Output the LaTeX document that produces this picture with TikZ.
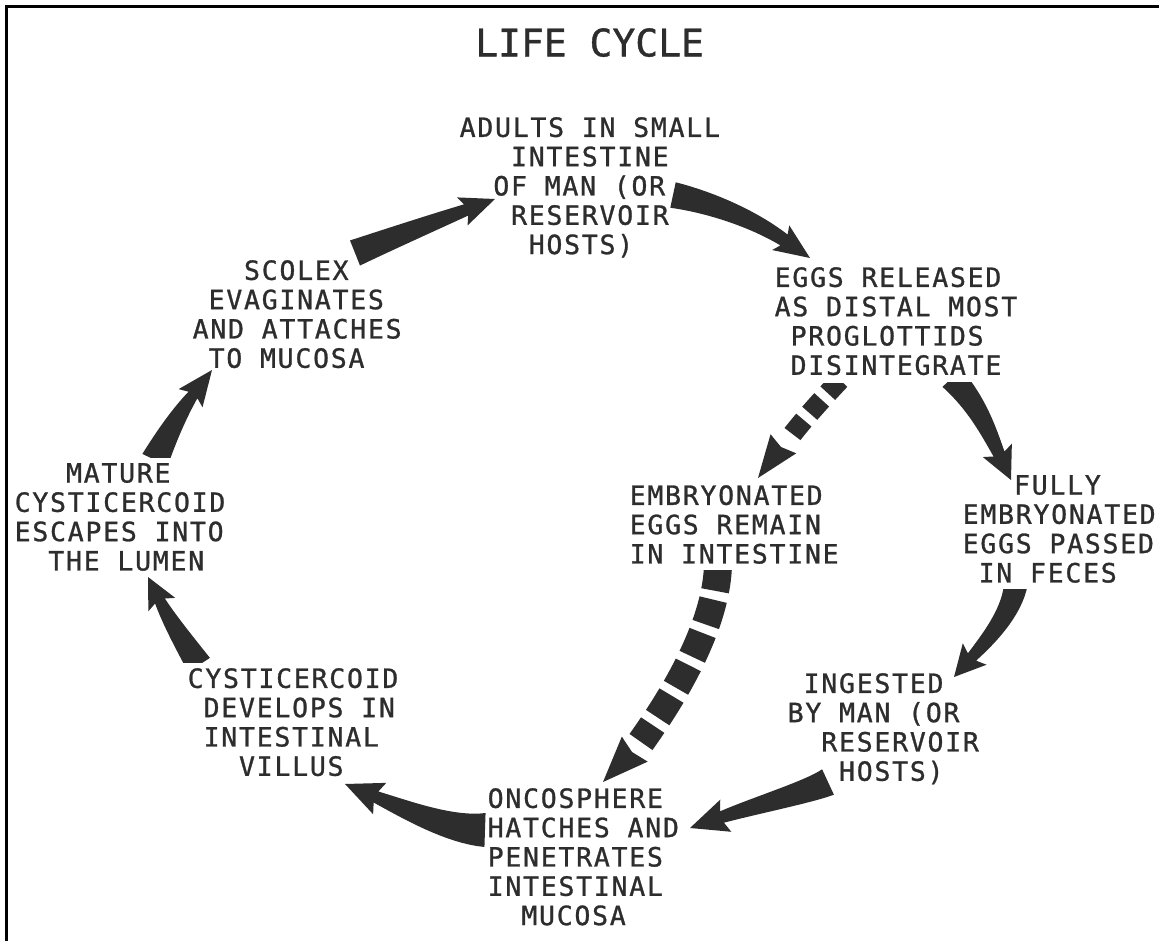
\documentclass[tikz,border=0pt]{standalone}
\usepackage{fontspec}
\usetikzlibrary{calc}
\newfontfamily\monoface[LetterSpace=6.6,FakeBold=1]{DejaVu Sans Mono}
\newfontfamily\titleface[FakeBold=1]{DejaVu Sans Mono}
\definecolor{ink}{RGB}{45,45,45}
\newcommand\bodyfont{\monoface\fontsize{26.5}{29.3}\selectfont}
\newcommand\titlefont{\titleface\fontsize{38}{40}\selectfont}
% tapered curved arrow: #1 start, #2 ctrl1, #3 ctrl2, #4 neck, #5 tip, #6 tail width, #7 neck width, #8 head half width
\newcommand\tarrow[8]{%
  \foreach \i in {0,...,16}{%
    \pgfmathsetmacro\tpos{\i/16}%
    \path #1 .. controls #2 and #3 .. #4 coordinate[pos=\tpos] (q\i);
  }%
  \foreach \i in {0,...,15}{%
    \pgfmathsetmacro\ww{(#6+(#7-#6)*\i/16)/2}%
    \pgfmathtruncatemacro\jj{\i+1}%
    \coordinate (l\i) at ($(q\i)!\ww pt!90:(q\jj)$);
    \coordinate (r\i) at ($(q\i)!\ww pt!-90:(q\jj)$);
  }%
  \pgfmathsetmacro\ww{#7/2}%
  \coordinate (l16) at ($(q16)!\ww pt!-90:(q15)$);
  \coordinate (r16) at ($(q16)!\ww pt!90:(q15)$);
  \coordinate (hb) at ($(q16)!-4pt!#5$);
  \coordinate (hl) at ($(hb)!#8pt!90:#5$);
  \coordinate (hr) at ($(hb)!#8pt!-90:#5$);
  \fill[ink] (l0) \foreach \i in {1,...,16}{-- (l\i)} -- (hl) -- #5 -- (hr) \foreach \i in {16,...,0}{-- (r\i)} -- cycle;
}
% arrow head only: #1 neck, #2 tip, #3 half width
\newcommand\headonly[3]{%
  \coordinate (hb) at ($#1!-4pt!#2$);
  \coordinate (hl) at ($(hb)!#3pt!90:#2$);
  \coordinate (hr) at ($(hb)!#3pt!-90:#2$);
  \fill[ink] #1 -- (hl) -- #2 -- (hr) -- cycle;
}
\tikzset{
  lbl/.style={font=\bodyfont, text=ink, inner sep=0pt, anchor=north west, align=left},
  dashedband/.style={draw=ink, line width=#1}
}
\begin{document}
\begin{tikzpicture}[x=1pt,y=-1pt]
\useasboundingbox (0,0) rectangle (1159,941);
\fill[white] (0,0) rectangle (1159,941);
% frame
\draw[line width=3pt] (6,941) -- (6,7) -- (1159,7);
% title
\node[font=\titlefont, text=ink, inner sep=0pt, anchor=north west] (title) at (475,28) {LIFE CYCLE};
% stages
\node[lbl] (adults) at (459.5,117) {ADULTS IN SMALL\\\phantom{MMM}INTESTINE\\\phantom{MM}OF MAN (OR\\\phantom{MMM}RESERVOIR\\\phantom{MMMM}HOSTS)};
\node[lbl] (eggs) at (774.5,267) {EGGS RELEASED\\AS DISTAL MOST\\\phantom{M}PROGLOTTIDS\\\phantom{M}DISINTEGRATE};
\node[lbl] (remain) at (629.5,485) {EMBRYONATED\\EGGS REMAIN\\IN INTESTINE};
\node[lbl] (passed) at (962.5,475) {\phantom{MMM}FULLY\\EMBRYONATED\\EGGS PASSED\\\phantom{M}IN FECES};
\node[lbl] (ingested) at (787.5,673) {\phantom{M}INGESTED\\BY MAN (OR\\\phantom{MM}RESERVOIR\\\phantom{MMM}HOSTS)};
\node[lbl] (onco) at (487.5,788) {ONCOSPHERE\\HATCHES AND\\PENETRATES\\INTESTINAL\\\phantom{MM}MUCOSA};
\node[lbl] (develops) at (187.5,668) {CYSTICERCOID\\\phantom{M}DEVELOPS IN\\\phantom{M}INTESTINAL\\\phantom{MMM}VILLUS};
\node[lbl] (mature) at (14.5,463) {\phantom{MMM}MATURE\\CYSTICERCOID\\ESCAPES INTO\\\phantom{MM}THE LUMEN};
\node[lbl] (scolex) at (192.5,260) {\phantom{MMM}SCOLEX\\\phantom{M}EVAGINATES\\AND ATTACHES\\\phantom{M}TO MUCOSA};
% arrow end points
\coordinate (ab-s) at (673,195);  \coordinate (ab-n) at (784,240);  \coordinate (ab-t) at (810,258);
\coordinate (bd-s) at (952,378);  \coordinate (bd-n) at (999,454);  \coordinate (bd-t) at (1011,480);
\coordinate (de-s) at (1016,582); \coordinate (de-n) at (972,657);  \coordinate (de-t) at (954,677);
\coordinate (ef-s) at (828,782);  \coordinate (ef-n) at (722,817);  \coordinate (ef-t) at (690,828);
\coordinate (fg-s) at (485,830);  \coordinate (fg-n) at (376,797);  \coordinate (fg-t) at (345,784);
\coordinate (gh-s) at (199,665);  \coordinate (gh-n) at (160,601);  \coordinate (gh-t) at (148,577);
\coordinate (hs-s) at (155,460);  \coordinate (hs-n) at (193,395);  \coordinate (hs-t) at (212,370);
\coordinate (sa-s) at (355,253);  \coordinate (sa-n) at (466,210);  \coordinate (sa-t) at (495,199);
\coordinate (bc-s) at (840,380);  \coordinate (bc-e) at (791,436);  \coordinate (bc-n) at (781,447);  \coordinate (bc-t) at (758,478);
\coordinate (cf-s) at (718,565);  \coordinate (cf-e) at (641,742);  \coordinate (cf-n) at (632,752);  \coordinate (cf-t) at (603,782);
% solid arrows
\tarrow{(ab-s)}{(713,203)}{(755,220)}{(ab-n)}{(ab-t)}{26}{13}{15}
\begin{scope}
  \clip (0,382) rectangle (1159,941);
  \tarrow{(bd-s)}{(977,404)}{(988.5,431)}{(bd-n)}{(bd-t)}{26}{12}{16}
\end{scope}
\begin{scope}
  \clip (0,589) rectangle (1159,941);
  \tarrow{(de-s)}{(1013,612)}{(986.7,640.7)}{(de-n)}{(de-t)}{24}{11}{16}
\end{scope}
\tarrow{(ef-s)}{(808,792)}{(755,805.6)}{(ef-n)}{(ef-t)}{28}{12}{17}
\tarrow{(fg-s)}{(450,830)}{(408,810.5)}{(fg-n)}{(fg-t)}{34}{12}{17}
\begin{scope}
  \clip (0,0) rectangle (1159,662);
  \tarrow{(gh-s)}{(184,642)}{(169.8,620.7)}{(gh-n)}{(gh-t)}{26}{11}{15}
\end{scope}
\begin{scope}
  \clip (0,0) rectangle (1159,457);
  \tarrow{(hs-s)}{(166,437)}{(179.7,412.5)}{(hs-n)}{(hs-t)}{28}{11}{15}
\end{scope}
\tarrow{(sa-s)}{(390,239)}{(433,222.4)}{(sa-n)}{(sa-t)}{27}{12}{15}
% dashed arrows
\begin{scope}
  \clip (0,383) rectangle (1159,941);
  \draw[dashedband=20pt, dash pattern=on 18pt off 9pt] (bc-s) .. controls (825,396) and (803,420) .. (bc-e);
\end{scope}
\headonly{(bc-n)}{(bc-t)}{16}
\begin{scope}
  \clip (0,570) rectangle (1159,941);
  \draw[dashedband=28pt, dash pattern=on 26pt off 9pt] (cf-s) .. controls (716,635) and (660,715) .. (cf-e);
\end{scope}
\headonly{(cf-n)}{(cf-t)}{18}
\end{tikzpicture}
\end{document}
